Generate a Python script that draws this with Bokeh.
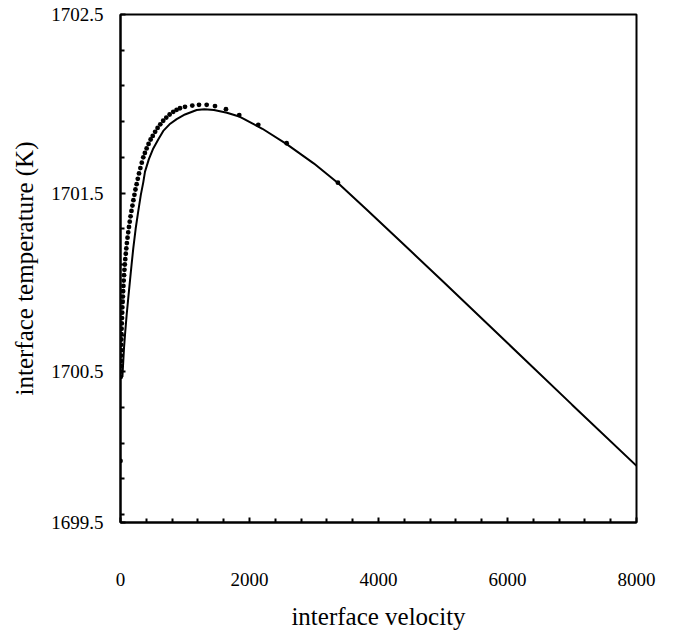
from bokeh.plotting import figure
from bokeh.models import Range1d, FixedTicker
from bokeh.embed import file_html
from bokeh.resources import INLINE

# ---- data ----
x_label = "interface velocity"
y_label = "interface temperature (K)"

x_ticks = [0, 2000, 4000, 6000, 8000]
x_minor_ticks = [400, 800, 1200, 1600, 2400, 2800, 3200, 3600, 4400, 4800,
                 5200, 5600, 6400, 6800, 7200, 7600]
y_ticks = [1699.655, 1700.5, 1701.5, 1702.5]
y_tick_labels = ["1699.5", "1700.5", "1701.5", "1702.5"]
y_minor_ticks = [1699.7, 1699.9, 1700.1, 1700.3, 1700.7, 1700.9, 1701.1, 1701.3,
                 1701.7, 1701.9, 1702.1, 1702.3]

# solid curve
line_v = [30, 34, 54, 75, 96, 120, 147, 172, 198, 235, 276, 315, 353, 380, 440,
          508, 585, 663, 760, 871, 1000, 1181, 1300, 1450, 1650, 1852, 2200,
          2576, 3000, 3371, 3815, 4500, 5000, 6000, 7000, 8000]
line_t = [1700.47, 1700.50, 1700.63, 1700.73, 1700.82, 1700.91, 1701.01, 1701.10,
          1701.19, 1701.30, 1701.40, 1701.49, 1701.56, 1701.62, 1701.69, 1701.75,
          1701.80, 1701.848, 1701.885, 1701.914, 1701.94, 1701.965, 1701.97,
          1701.965, 1701.95, 1701.927, 1701.86, 1701.774, 1701.665, 1701.556,
          1701.408, 1701.175, 1701.005, 1700.66, 1700.315, 1699.972]

# dotted series
dot_v = [0, 3, 4, 5, 6, 7, 9, 11, 13, 15, 17, 20, 23, 26, 29, 33, 37, 41, 45, 50,
         55, 61, 67, 74, 82, 90, 99, 109, 120, 131, 143, 156, 170, 185, 200, 216,
         232, 250, 268, 287, 308, 330, 353, 378, 405, 435, 467, 500, 537, 575,
         617, 662, 710, 762, 818, 870, 922, 1000, 1113, 1217, 1336, 1465, 1635,
         1841, 2136, 2576, 3371]
dot_t = [1700.0, 1700.47, 1700.50, 1700.53, 1700.56, 1700.59, 1700.62, 1700.65,
         1700.68, 1700.71, 1700.74, 1700.77, 1700.80, 1700.83, 1700.86, 1700.89,
         1700.92, 1700.95, 1700.98, 1701.01, 1701.04, 1701.07, 1701.10, 1701.13,
         1701.16, 1701.19, 1701.22, 1701.25, 1701.28, 1701.31, 1701.34, 1701.37,
         1701.40, 1701.43, 1701.46, 1701.49, 1701.52, 1701.55, 1701.58, 1701.61,
         1701.64, 1701.67, 1701.70, 1701.725, 1701.75, 1701.775, 1701.80, 1701.82,
         1701.843, 1701.865, 1701.885, 1701.905, 1701.923, 1701.94, 1701.955,
         1701.966, 1701.975, 1701.983, 1701.99, 1701.994, 1701.994, 1701.987,
         1701.970, 1701.937, 1701.882, 1701.779, 1701.558]

FONT = "Liberation Serif"

p = figure(frame_width=516, frame_height=508,
           min_border_left=120, min_border_right=30,
           min_border_top=14, min_border_bottom=107,
           x_range=Range1d(0, 8000), y_range=Range1d(y_ticks[0], y_ticks[-1]),
           output_backend="svg", toolbar_location=None,
           background_fill_color="white", border_fill_color="white")

p.xgrid.visible = False
p.ygrid.visible = False
p.outline_line_color = "black"
p.outline_line_width = 2

p.line(line_v, line_t, line_color="black", line_width=2)
p.scatter(dot_v, dot_t, marker="circle", size=4.8, fill_color="black",
          line_color="black", line_width=0)

p.xaxis.ticker = FixedTicker(ticks=x_ticks, minor_ticks=x_minor_ticks)
p.yaxis.ticker = FixedTicker(ticks=y_ticks, minor_ticks=y_minor_ticks)
p.yaxis.major_label_overrides = {t: s for t, s in zip(y_ticks, y_tick_labels)}

for ax in (p.xaxis[0], p.yaxis[0]):
    ax.axis_line_width = 2
    ax.axis_line_color = "black"
    ax.major_tick_in = 5
    ax.major_tick_out = 0
    ax.minor_tick_in = 4
    ax.minor_tick_out = 0
    ax.major_tick_line_width = 2
    ax.minor_tick_line_width = 2
    ax.major_label_text_font = FONT
    ax.major_label_text_font_size = "19px"
    ax.major_label_text_color = "black"
    ax.axis_label_text_font = FONT
    ax.axis_label_text_font_size = "25px"
    ax.axis_label_text_font_style = "normal"
    ax.axis_label_text_color = "black"

p.xaxis.axis_label = x_label
p.yaxis.axis_label = y_label
p.xaxis.major_label_standoff = 50
p.xaxis.axis_label_standoff = 14
p.yaxis.major_label_standoff = 17
p.yaxis.axis_label_standoff = 10

open("out.html", "w").write(file_html(p, INLINE))
